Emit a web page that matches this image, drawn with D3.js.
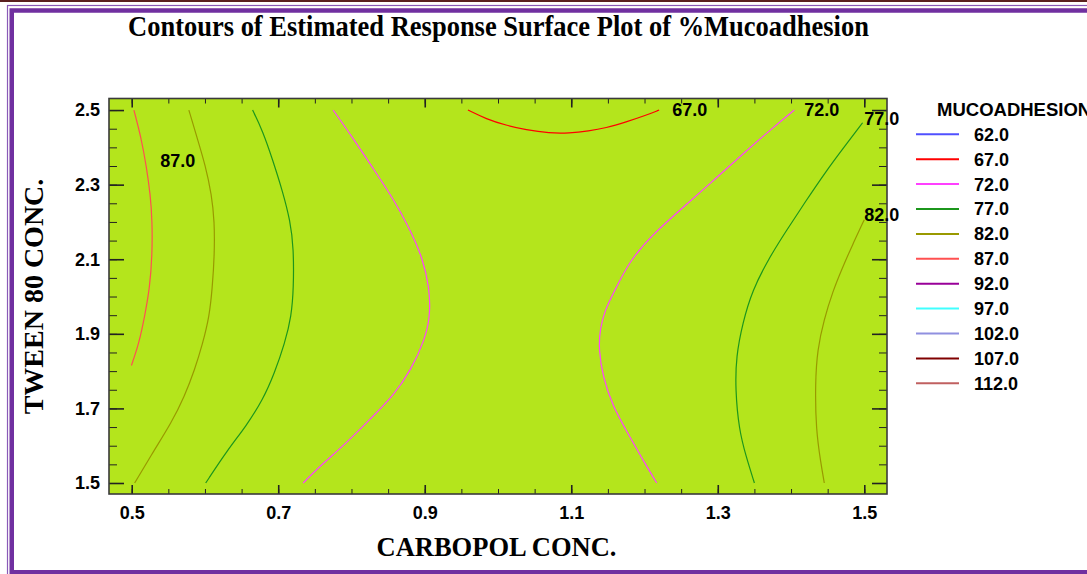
<!DOCTYPE html>
<html>
<head>
<meta charset="utf-8">
<script src="https://cdn.jsdelivr.net/npm/d3@7"></script>
<style>
  html, body { margin: 0; padding: 0; background: #ffffff; }
  svg { display: block; }
  .serif { font-family: "Liberation Serif", "Times New Roman", serif; font-weight: bold; }
  .sans { font-family: "Liberation Sans", Arial, sans-serif; font-weight: bold; }
</style>
</head>
<body>
<svg id="chart" width="1087" height="574"></svg>
<script>
// ---------------- DATA ----------------
const chartTitle = "Contours of Estimated Response Surface Plot of %Mucoadhesion";
const xAxisTitle = "CARBOPOL CONC.";
const yAxisTitle = "TWEEN 80 CONC.";
const legendTitle = "MUCOADHESION";

const levels = [62, 67, 72, 77, 82, 87, 92, 97, 102, 107, 112];
const levelColors = ["#5050ff", "#ff0000", "#ff40ff", "#1c961c", "#999900", "#ff5050",
                     "#990099", "#40ffff", "#9090e0", "#800000", "#c06060"];

const xTickLabels = [0.5, 0.7, 0.9, 1.1, 1.3, 1.5];
const yTickLabels = [1.5, 1.7, 1.9, 2.1, 2.3, 2.5];
const xMinorTicks = d3.range(0, 21).map(i => +(0.5 + i * 0.05).toFixed(2));
const yMinorTicks = d3.range(0, 21).map(i => +(1.5 + i * 0.05).toFixed(2));

// Contour lines: [CARBOPOL, TWEEN 80]
const line87 = [[0.503,2.5],[0.513,2.425],[0.520,2.349],[0.5255,2.273],[0.528,2.202],[0.528,2.112],
  [0.5246,2.023],[0.5177,1.947],[0.510,1.875],[0.4996,1.815]];
const line82Left = [[0.578,2.5],[0.588,2.434],[0.601,2.349],[0.609,2.273],[0.613,2.202],[0.613,2.112],
  [0.610,2.023],[0.606,1.947],[0.597,1.875],[0.586,1.804],[0.572,1.732],[0.554,1.661],[0.531,1.589],[0.504,1.5]];
const line77Left = [[0.665,2.5],[0.679,2.443],[0.693,2.363],[0.706,2.282],[0.7165,2.202],[0.721,2.130],
  [0.721,2.023],[0.718,1.947],[0.709,1.875],[0.695,1.795],[0.679,1.723],[0.656,1.652],[0.631,1.589],[0.601,1.5]];
const line72Left = [[0.775,2.5],[0.802,2.425],[0.829,2.345],[0.8565,2.264],[0.879,2.184],[0.897,2.104],
  [0.9065,2.023],[0.9075,1.947],[0.900,1.884],[0.8816,1.804],[0.8565,1.732],[0.8247,1.670],[0.793,1.607],
  [0.7565,1.5445],[0.734,1.5]];
const line67 = [[0.959,2.5],[0.984,2.476],[1.011,2.459],[1.038,2.447],[1.070,2.438],[1.097,2.438],
  [1.124,2.444],[1.147,2.452],[1.175,2.468],[1.202,2.486],[1.220,2.5]];
const line72Right = [[1.4045,2.5],[1.375,2.452],[1.338,2.389],[1.293,2.309],[1.247,2.229],[1.211,2.166],
  [1.179,2.094],[1.160,2.018],[1.146,1.965],[1.139,1.911],[1.1375,1.858],[1.143,1.786],[1.1566,1.7055],
  [1.177,1.634],[1.1976,1.5625],[1.2167,1.5]];
const line77Right = [[1.4977,2.466],[1.475,2.4075],[1.4477,2.336],[1.420,2.2555],[1.393,2.175],[1.370,2.1035],
  [1.347,2.016],[1.334,1.929],[1.325,1.8395],[1.324,1.750],[1.329,1.643],[1.3386,1.571],[1.35,1.5]];
const line82Right = [[1.5,2.206],[1.484,2.139],[1.470,2.0767],[1.457,2.014],[1.445,1.938],[1.436,1.858],
  [1.433,1.768],[1.434,1.643],[1.4407,1.5535],[1.4454,1.5]];

const contourSegments = [
  [87, line87], [82, line82Left], [77, line77Left], [72, line72Left],
  [67, line67], [72, line72Right], [77, line77Right], [82, line82Right]
];

// contour labels: level and anchor in data units
const labelLevels = [87, 67, 72, 77, 82];
const labelX = [0.539, 1.238, 1.418, 1.500, 1.500];
const labelY = [2.346, 2.484, 2.484, 2.461, 2.202];

// ---------------- DRAW ----------------
const svg = d3.select("#chart");
const W = 1087, H = 574;
const plot = { left: 109, top: 98.5, right: 887, bottom: 494 };

const x = d3.scaleLinear().domain([0.469, 1.531]).range([plot.left, plot.right]);
const y = d3.scaleLinear().domain([1.4705, 2.531]).range([plot.bottom, plot.top]);

// frame
svg.append("rect").attr("x", 0).attr("y", 0).attr("width", W).attr("height", 2).attr("fill", "#5a2020");
svg.append("rect").attr("x", 7.5).attr("y", 5.5).attr("width", 1200).attr("height", 700)
  .attr("fill", "none").attr("stroke", "#8a5ab8").attr("stroke-width", 1.2);
svg.append("rect").attr("x", 11.75).attr("y", 10.5).attr("width", 1200).attr("height", 561.75)
  .attr("fill", "none").attr("stroke", "#7030a0").attr("stroke-width", 4.5);

// title
svg.append("text").attr("class", "serif")
  .attr("transform", "translate(498.5,36) scale(1,1.1)").attr("text-anchor", "middle")
  .attr("font-size", 26.5).attr("fill", "#000").text(chartTitle);

// plot background
svg.append("rect").attr("x", plot.left).attr("y", plot.top)
  .attr("width", plot.right - plot.left).attr("height", plot.bottom - plot.top)
  .attr("fill", "#b4e51c");

// contours
svg.append("clipPath").attr("id", "plotclip").append("rect")
  .attr("x", plot.left).attr("y", plot.top)
  .attr("width", plot.right - plot.left).attr("height", plot.bottom - plot.top);
const lineGen = d3.line().x(d => x(d[0])).y(d => y(d[1])).curve(d3.curveBasis);
const colorOf = lv => levelColors[levels.indexOf(lv)];
svg.append("g").attr("clip-path", "url(#plotclip)")
  .selectAll("path").data(contourSegments).join("path")
  .attr("d", d => lineGen(d[1]))
  .attr("fill", "none")
  .attr("stroke", d => colorOf(d[0]))
  .attr("stroke-width", 1.2);

// axes ticks (inward)
function tickAxis(makeGen, transform, majorVals, minorVals, majorLen, minorLen, showLabels, pad) {
  const gMinor = svg.append("g").attr("transform", transform)
    .call(makeGen().tickValues(minorVals).tickSizeInner(-minorLen).tickSizeOuter(0).tickFormat(""));
  gMinor.select(".domain").remove();
  gMinor.selectAll("line").attr("stroke", "#222").attr("stroke-width", 1);
  const gMajor = svg.append("g").attr("transform", transform)
    .call(makeGen().tickValues(majorVals).tickSizeInner(-majorLen).tickSizeOuter(0)
      .tickPadding(pad).tickFormat(showLabels ? d3.format(".1f") : () => ""));
  gMajor.select(".domain").remove();
  gMajor.selectAll("line").attr("stroke", "#222").attr("stroke-width", 1.6);
  gMajor.attr("font-family", null).attr("font-size", null);
  gMajor.selectAll("text").attr("class", "sans").attr("font-size", 18).attr("fill", "#000");
  return gMajor;
}
tickAxis(() => d3.axisBottom(x), `translate(0,${plot.bottom})`, xTickLabels, xMinorTicks, 9, 5, true, 12);
tickAxis(() => d3.axisTop(x), `translate(0,${plot.top})`, xTickLabels, xMinorTicks, 9, 5, false, 3);
tickAxis(() => d3.axisLeft(y), `translate(${plot.left},0)`, yTickLabels, yMinorTicks, 15, 8, true, 9);
tickAxis(() => d3.axisRight(y), `translate(${plot.right},0)`, yTickLabels, yMinorTicks, 15, 8, false, 3);

// plot border
svg.append("rect").attr("x", plot.left).attr("y", plot.top)
  .attr("width", plot.right - plot.left).attr("height", plot.bottom - plot.top)
  .attr("fill", "none").attr("stroke", "#3a3a3a").attr("stroke-width", 1.6);

// contour labels
svg.append("g").selectAll("text").data(labelLevels).join("text")
  .attr("class", "sans")
  .attr("x", (d, i) => x(labelX[i]))
  .attr("y", (d, i) => y(labelY[i]))
  .attr("font-size", 18)
  .attr("fill", "#000")
  .text(d => d3.format(".1f")(d));

// axis titles
svg.append("text").attr("class", "serif")
  .attr("transform", "translate(496.5,556) scale(1,1.05)").attr("text-anchor", "middle")
  .attr("font-size", 26.5).attr("fill", "#000").text(xAxisTitle);
svg.append("text").attr("class", "serif")
  .attr("transform", "translate(42.5,296.5) rotate(-90)").attr("text-anchor", "middle")
  .attr("font-size", 28).attr("fill", "#000").text(yAxisTitle);

// legend
const lg = svg.append("g");
lg.append("text").attr("class", "sans").attr("x", 937).attr("y", 116)
  .attr("font-size", 18.5).attr("fill", "#000").text(legendTitle);
const legendY = d3.scalePoint().domain(levels).range([134.3, 383.3]);
const items = lg.selectAll("g.item").data(levels).join("g").attr("class", "item")
  .attr("transform", d => `translate(0,${legendY(d)})`);
items.append("line").attr("x1", 916).attr("x2", 959).attr("y1", 0).attr("y2", 0)
  .attr("stroke", (d, i) => levelColors[i]).attr("stroke-width", 2);
items.append("text").attr("class", "sans").attr("x", 974).attr("dy", "0.36em")
  .attr("font-size", 18).attr("fill", "#000").text(d => d3.format(".1f")(d));
</script>
</body>
</html>
